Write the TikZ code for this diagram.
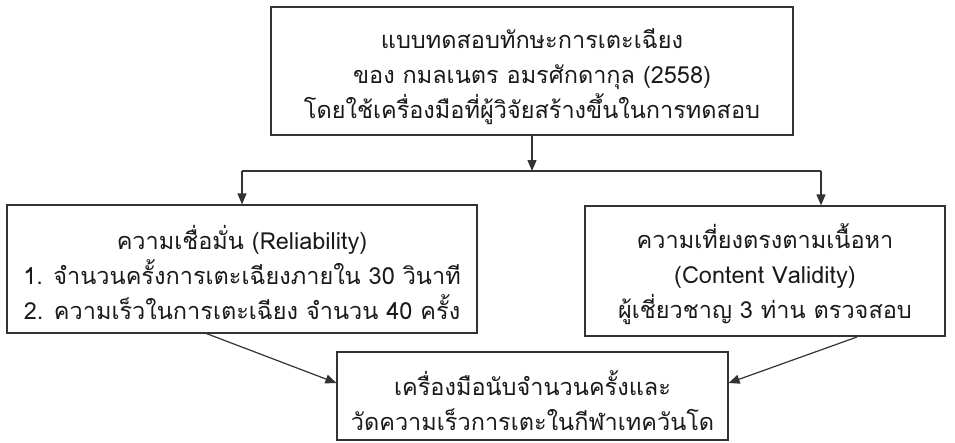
\documentclass[tikz,border=0pt]{standalone}
\usepackage{fontspec}
\setmainfont[Script=Thai]{Loma}
\usetikzlibrary{arrows.meta}
\definecolor{ln}{HTML}{333333}
\definecolor{tx}{HTML}{1A1A1A}
\begin{document}
\begin{tikzpicture}[x=1pt,y=-1pt,
  frame/.style={draw=ln,line width=1.2pt,inner sep=0pt},
  txt/.style={align=center,inner sep=0pt,text=tx,font=\fontsize{23.5}{35}\selectfont},
  arr/.style={draw=ln,line width=1.2pt,-{Triangle[length=11pt,width=9pt]}},
  ln/.style={draw=ln,line width=1.2pt}]
\useasboundingbox (0,0) rectangle (955,442);
\node[frame,minimum width=522pt,minimum height=128pt] (top) at (532,71) {};
\node[frame,minimum width=470pt,minimum height=128pt] (left) at (242,269) {};
\node[frame,minimum width=360pt,minimum height=130pt] (right) at (765,271) {};
\node[frame,minimum width=391pt,minimum height=88pt] (bottom) at (532.5,396) {};
\node[txt] (topt) at ([yshift=-6pt]top.center)
  {แบบทดสอบทักษะการเตะเฉียง\\ของ กมลเนตร อมรศักดากุล (2558)\\โดยใช้เครื่องมือที่ผู้วิจัยสร้างขึ้นในการทดสอบ};
\node[txt] (leftt) at ([yshift=-3pt]left.center)
  {ความเชื่อมั่น (Reliability)\\1. จำนวนครั้งการเตะเฉียงภายใน 30 วินาที\\2. ความเร็วในการเตะเฉียง จำนวน 40 ครั้ง};
\node[txt] (rightt) at ([yshift=-3pt]right.center)
  {ความเที่ยงตรงตามเนื้อหา\\(Content Validity)\\ผู้เชี่ยวชาญ 3 ท่าน ตรวจสอบ};
\node[txt] (bottomt) at ([yshift=-5pt]bottom.center)
  {เครื่องมือนับจำนวนครั้งและ\\วัดความเร็วการเตะในกีฬาเทควันโด};
\coordinate (j) at (top.south |- 0,171);
\coordinate (jl) at (left.north |- 0,171);
\coordinate (jr) at (821,171);
\coordinate (ls) at (205,333);
\coordinate (rs) at (857,337);
\draw[arr] (top.south) -- (j);
\draw[ln] (jl) -- (jr);
\draw[arr] (jl) -- (left.north);
\draw[arr] (jr) -- (jr |- right.north);
\draw[arr] (ls) -- ([yshift=13pt]bottom.west);
\draw[arr] (rs) -- ([yshift=13pt]bottom.east);
\end{tikzpicture}
\end{document}
